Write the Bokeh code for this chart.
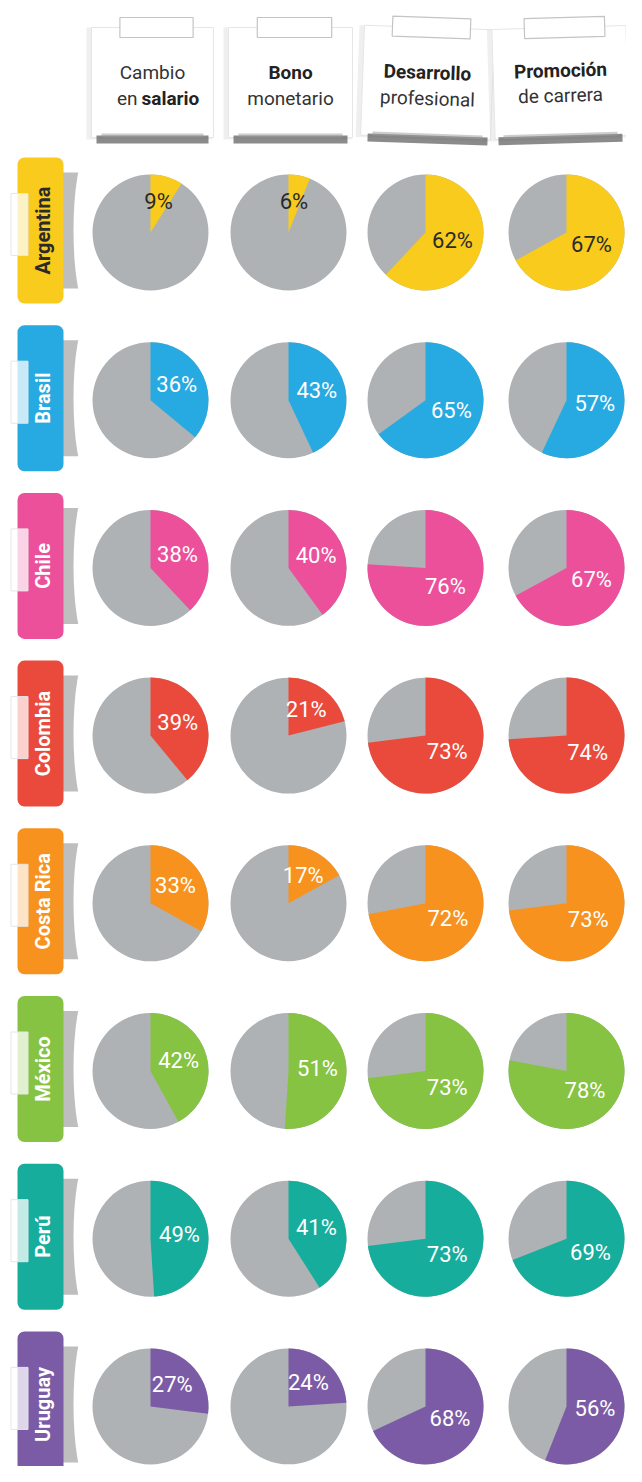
import math
from bokeh.plotting import figure
from bokeh.models import Range1d
from bokeh.embed import file_html
from bokeh.resources import INLINE
from bokeh.core.properties import value

# ---------------- data ----------------
countries = ["Argentina", "Brasil", "Chile", "Colombia", "Costa Rica", "México", "Perú", "Uruguay"]
country_colors = ["#F8CB1C", "#27A9E1", "#EC509B", "#EA4A3B", "#F7921E", "#86C342", "#17AD9C", "#7C5BA6"]
cambio_en_salario = [9, 36, 38, 39, 33, 42, 49, 27]
bono_monetario = [6, 43, 40, 21, 17, 51, 41, 24]
desarrollo_profesional = [62, 65, 76, 73, 72, 73, 73, 68]
promocion_de_carrera = [67, 57, 67, 74, 73, 78, 69, 56]
series = [cambio_en_salario, bono_monetario, desarrollo_profesional, promocion_de_carrera]
header_top = ["Cambio", "Bono", "Desarrollo", "Promoción"]
header_bottom = ["en salario", "monetario", "profesional", "de carrera"]

# ---------------- layout ----------------
W, H = 626, 1466
col_x = [150, 288, 425, 566]
row0, row_step = 232, 167.7
R = 58
GRAY = "#AEB2B4"
FONT = "Roboto"

p = figure(width=W, height=H, x_range=Range1d(0, W), y_range=Range1d(-H, 0),
           output_backend="svg", toolbar_location=None, min_border=0)
p.axis.visible = False
p.grid.visible = False
p.outline_line_color = None
p.background_fill_color = "#FFFFFF"
p.border_fill_color = "#FFFFFF"

# ---------------- header cards ----------------
card_w = [122, 124, 130, 134]
card_angle = [0.0, 0.0, -0.035, 0.03]
card_x = [col_x[0] + 2, col_x[1] + 2, col_x[2] + 2, col_x[3] - 6]
for j in range(4):
    cx = card_x[j]
    a = card_angle[j]
    p.rect(x=cx - 3, y=-83, width=card_w[j] + 4, height=112, angle=a,
           fill_color="#DCDCDC", fill_alpha=0.45, line_color=None)
    p.rect(x=cx, y=-82, width=card_w[j], height=110, angle=a,
           fill_color="#FFFFFF", line_color="#E6E6E6", line_width=1)
    p.rect(x=cx, y=-139, width=card_w[j] - 10, height=8, angle=a,
           fill_color="#5A5A5A", line_color=None, fill_alpha=0.7)
    p.rect(x=cx, y=-135, width=card_w[j] - 20, height=4, angle=a,
           fill_color="#9A9A9A", line_color=None, fill_alpha=0.5)
    p.rect(x=cx + 4, y=-27, width=card_w[j] * 0.6, height=20, angle=a,
           fill_color="#FFFFFF", line_color="#C4C4C4", line_width=1.2)

# header texts
FS = "19px"
p.text(x=[card_x[0]], y=[-72], text=[header_top[0]], text_font=value(FONT),
       text_font_size=FS, text_color="#333333", text_align="center", text_baseline="middle")
p.text(x=card_x[1:], y=[-72, -72, -70], text=header_top[1:], angle=card_angle[1:],
       text_font=value(FONT), text_font_style="bold", text_font_size=FS,
       text_color="#222222", text_align="center", text_baseline="middle")
en, sal = header_bottom[0].split(" ")
p.text(x=[card_x[0] - 15], y=[-98], text=[en], text_font=value(FONT),
       text_font_size=FS, text_color="#333333", text_align="right", text_baseline="middle")
p.text(x=[card_x[0] - 11], y=[-98], text=[sal], text_font=value(FONT), text_font_style="bold",
       text_font_size=FS, text_color="#222222", text_align="left", text_baseline="middle")
p.text(x=card_x[1:], y=[-98, -98, -95], text=header_bottom[1:], angle=card_angle[1:],
       text_font=value(FONT), text_font_size=FS, text_color="#333333",
       text_align="center", text_baseline="middle")

# ---------------- rows ----------------
for i, c in enumerate(countries):
    cy = -(row0 + i * row_step)
    col = country_colors[i]
    # label shadow
    p.rect(x=[71], y=[cy + 2], width=18, height=116, fill_color="#7E7E7E", fill_alpha=0.5, line_color=None)
    p.ellipse(x=[86], y=[cy + 2], width=26, height=150, fill_color="#FFFFFF", line_color=None)
    # label
    p.rect(x=[40], y=[cy + 2], width=46, height=146, fill_color=col, line_color=None,
           border_radius=7)
    # small tab
    p.rect(x=[19], y=[cy + 8], width=17, height=62, fill_color="#FFFFFF", fill_alpha=0.75,
           line_color="#E6E6E6")
    p.text(x=[42], y=[cy + 2], text=[c], angle=math.pi / 2, text_font=value(FONT),
           text_font_style="bold", text_font_size="20px",
           text_color="#2A2A2A" if i == 0 else "#FFFFFF",
           text_align="center", text_baseline="middle")

    for j in range(4):
        v = series[j][i]
        x = col_x[j]
        p.wedge(x=[x], y=[cy], radius=R, start_angle=0, end_angle=2 * math.pi,
                fill_color=GRAY, line_color=None)
        end = math.pi / 2 - 2 * math.pi * v / 100
        p.wedge(x=[x], y=[cy], radius=R, start_angle=math.pi / 2, end_angle=end,
                direction="clock", fill_color=col, line_color=None)
        mid = math.pi / 2 - math.pi * v / 100
        d = 0.5 * R
        p.text(x=[x + d * math.cos(mid)], y=[cy + d * math.sin(mid) + 3], text=[f"{v}%"],
               text_font=value(FONT), text_font_size="22px",
               text_color="#2A2A2A" if i == 0 else "#FFFFFF",
               text_align="center", text_baseline="middle")

open("out.html", "w").write(file_html(p, INLINE))
